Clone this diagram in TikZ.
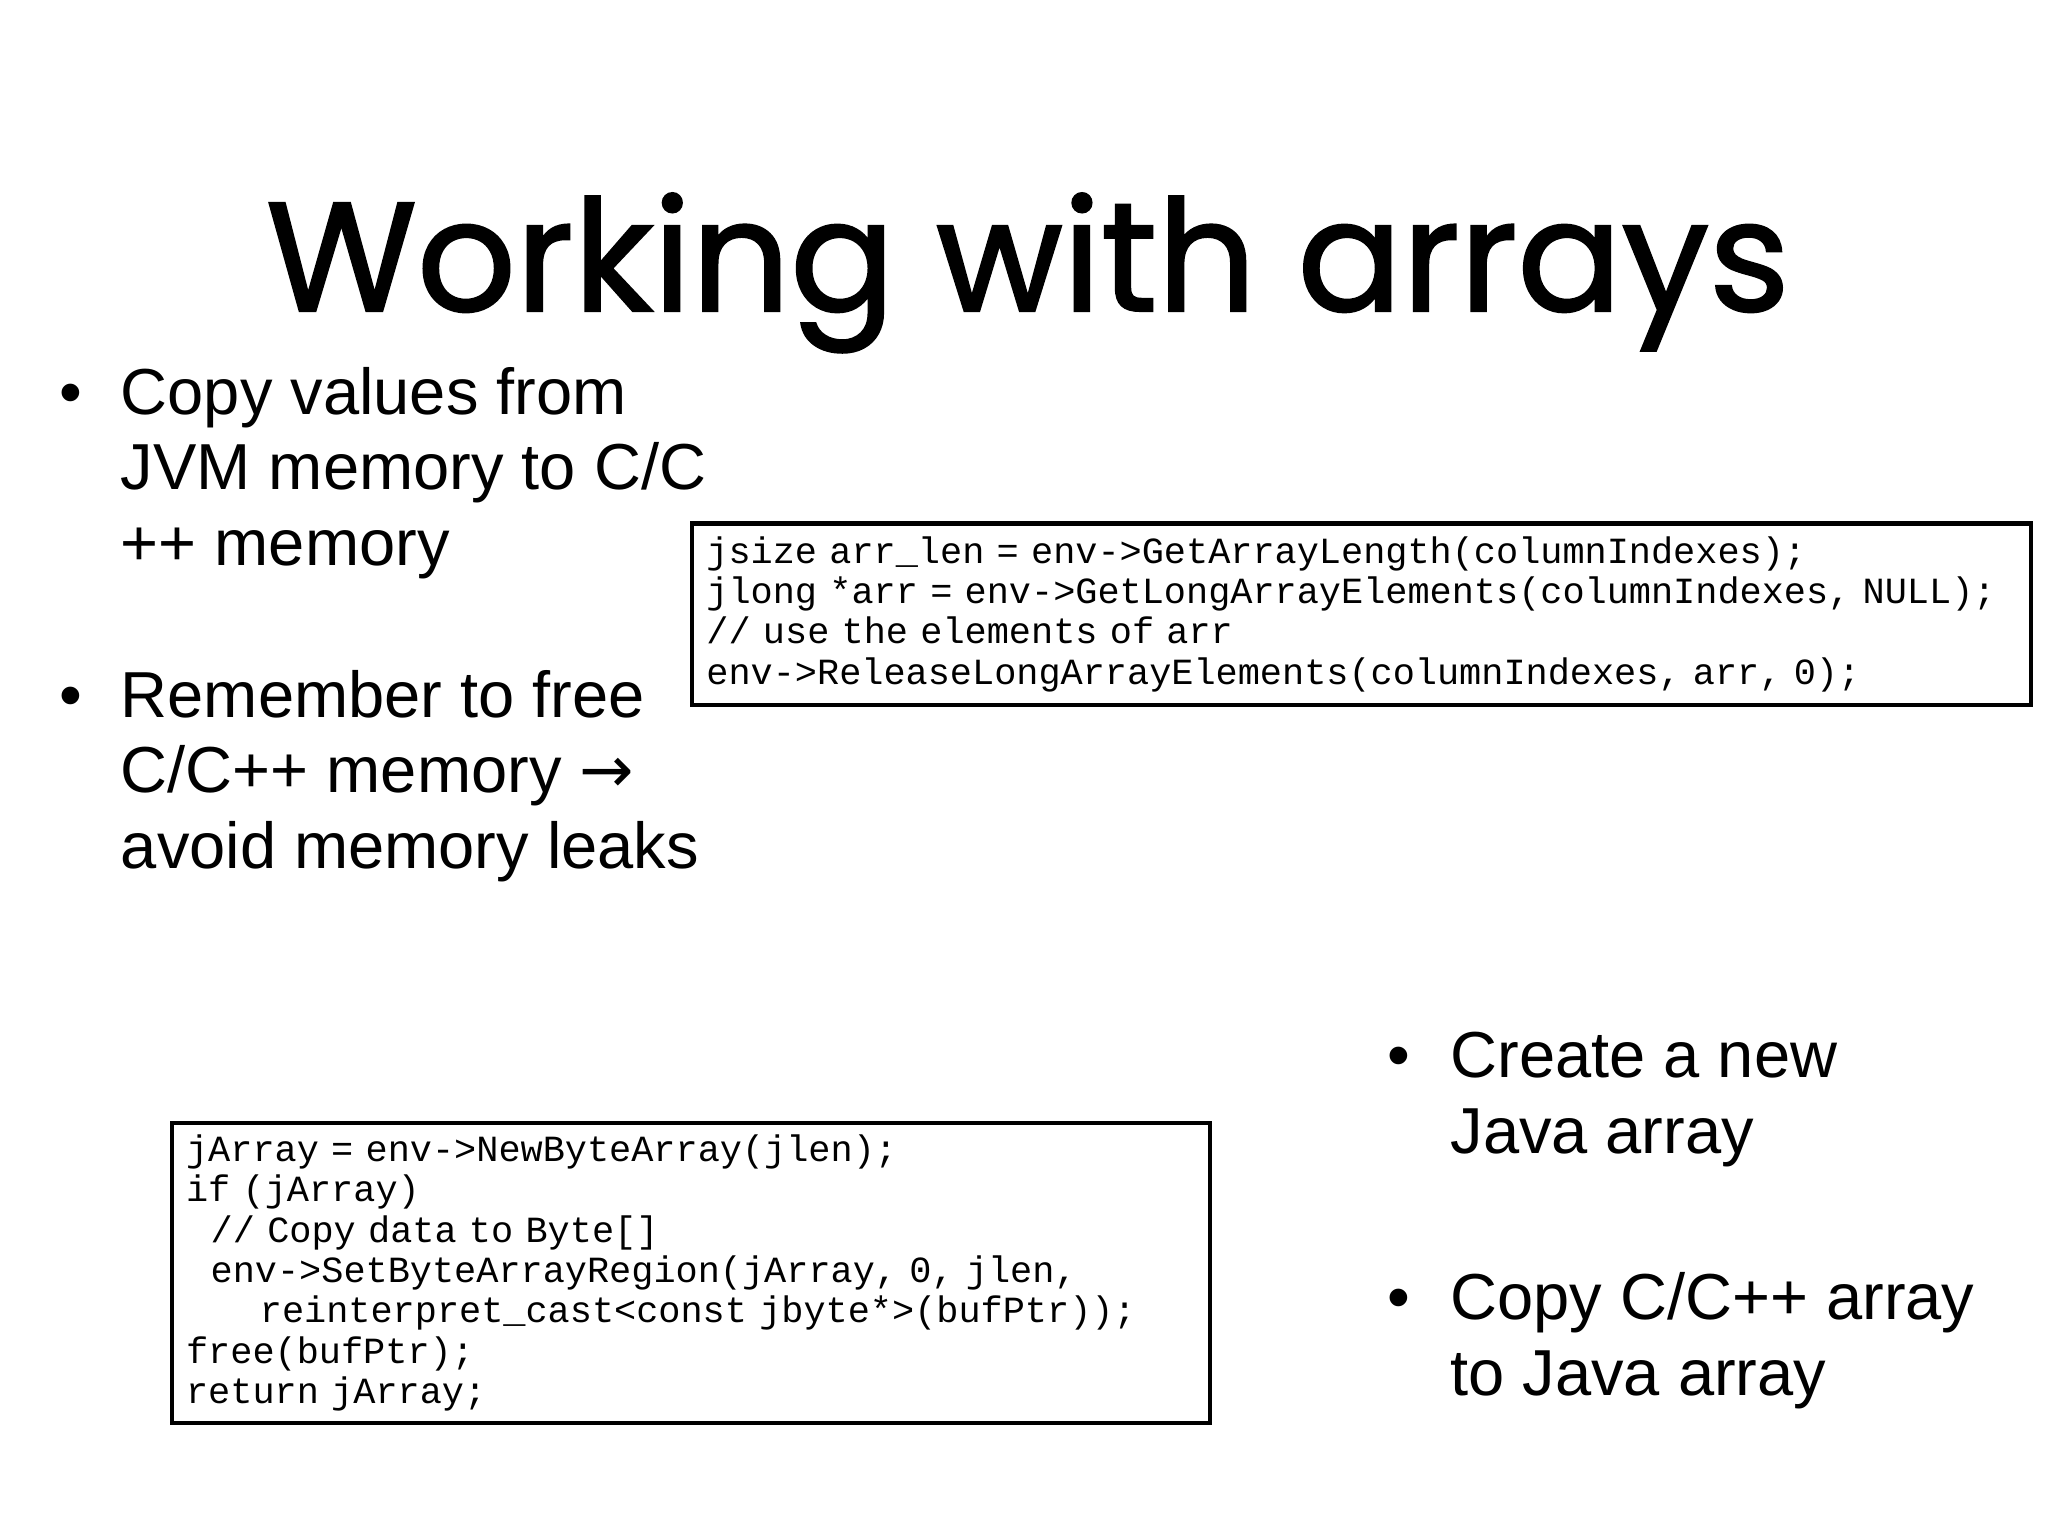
\documentclass[tikz,border=0pt]{standalone}
\usepackage{fontspec}
\setmainfont{Liberation Sans}
\newfontfamily\titlefont[FakeBold=1.5]{Poppins}
\newfontfamily\codefont{Liberation Mono}
\newfontfamily\symfont{DejaVu Sans}
\newcommand{\firstline}[1]{\begin{tabular}[t]{@{}l@{}}#1\end{tabular}}
\begin{document}
\begin{tikzpicture}[x=0.013061cm,y=-0.013061cm,
  body/.style={anchor=base west,inner sep=0pt,font=\fontsize{18.5}{21.6}\selectfont},
  dot/.style={anchor=base west,inner sep=0pt,font=\fontsize{18.5}{21.6}\selectfont},
  codebox/.style={draw,line width=1.3pt,anchor=north west,align=left,inner sep=0.11cm,
     font=\codefont\fontsize{10.5}{11.5}\selectfont}]
\path[use as bounding box,fill=white] (0,0) rectangle (1568,1176);
\node[anchor=base,inner sep=0pt,font=\titlefont\fontsize{44}{50}\selectfont] (title) at (787,238) {Working with arrays};
\node[dot] (b1) at (45,317) {•};
\node[body] (t1) at (92,317) {\firstline{Copy values from\\JVM memory to C/C\\++ memory}};
\node[dot] (b2) at (45,549) {•};
\node[body] (t2) at (92,549) {\firstline{Remember to free\\C/C++ memory {\symfont→}\\avoid memory leaks}};
\node[codebox,minimum width=13.39cm,minimum height=1.815cm,text width=13.1cm] (code1) at (528,399) {%
jsize arr\_len = env->GetArrayLength(columnIndexes);\\
jlong *arr = env->GetLongArrayElements(columnIndexes, NULL);\\
// use the elements of arr\\
env->ReleaseLongArrayElements(columnIndexes, arr, 0);};
\node[codebox,minimum width=10.38cm,minimum height=3.0cm,text width=10.1cm] (code2) at (130,858) {%
jArray = env->NewByteArray(jlen);\\
if (jArray)\\
\ \ // Copy data to Byte[]\\
\ \ env->SetByteArrayRegion(jArray, 0, jlen,\\
\ \ \ \ \ \ reinterpret\_cast<const jbyte*>(bufPtr));\\
free(bufPtr);\\
return jArray;};
\node[dot] (b3) at (1062,825) {•};
\node[body] (t3) at (1110,825) {\firstline{Create a new\\Java array}};
\node[dot] (b4) at (1062,1010) {•};
\node[body] (t4) at (1110,1010) {\firstline{Copy C/C++ array\\to Java array}};
\end{tikzpicture}
\end{document}
